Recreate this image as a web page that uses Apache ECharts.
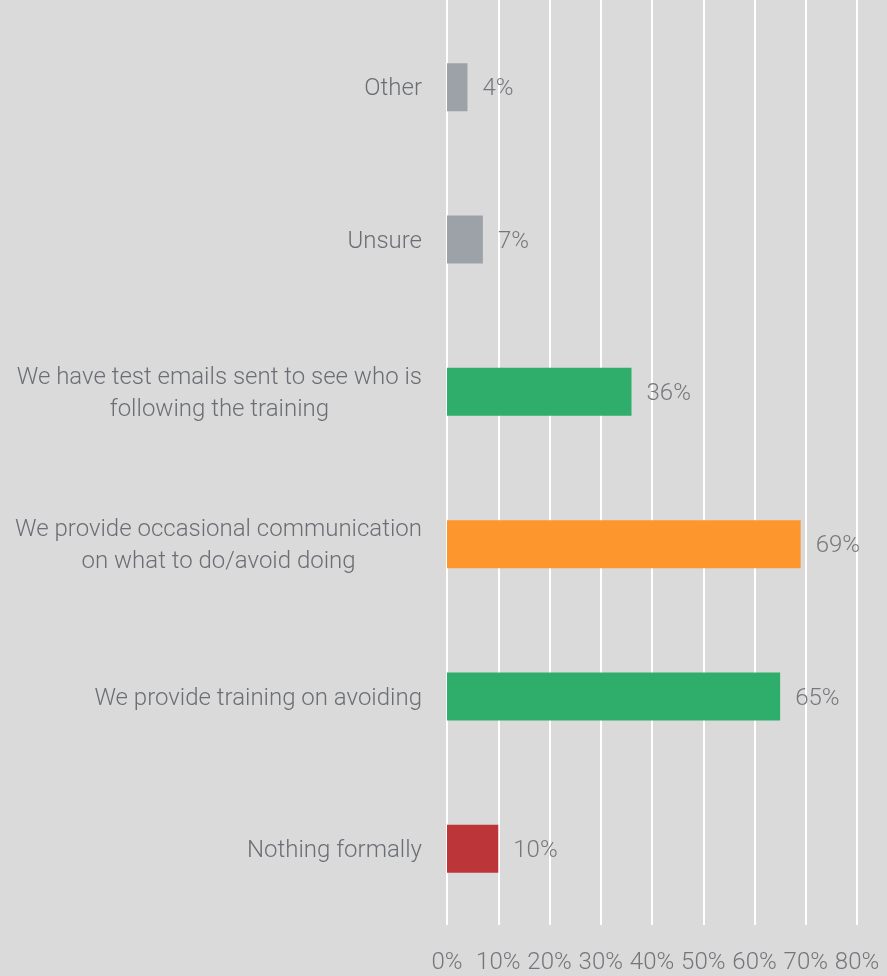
<!DOCTYPE html>
<html>
<head>
<meta charset="utf-8">
<style>
  html, body { margin: 0; padding: 0; background: #dadada; }
  #chart { width: 887px; height: 976px; }
</style>
<script src="https://cdn.jsdelivr.net/npm/echarts@6/dist/echarts.min.js"></script>
</head>
<body>
<div id="chart"></div>
<script>
// Survey answers, listed bottom to top as the category axis draws them
const categories = [
  'Nothing formally',
  'We provide training on avoiding',
  'We provide occasional communication\non what to do/avoid doing',
  'We have test emails sent to see who is\nfollowing the training',
  'Unsure',
  'Other'
];
const values = [10, 65, 69, 36, 7, 4];
const barColors = ['#bc3538', '#2eae6a', '#fd962d', '#2eae6a', '#9da1a8', '#9da1a8'];
const axisMax = 80;
const axisStep = 10;

const chart = echarts.init(document.getElementById('chart'));
const font = 'Roboto, "Noto Sans", sans-serif';

// Each label line is wrapped in a centred rich segment so wrapped lines centre under each other
function centredLabel(text) {
  return text.split('\n').map(line => '{c|' + line + '}').join('\n');
}

chart.setOption({
  backgroundColor: '#dadada',
  animation: false,
  grid: [
    { left: 447, right: 30, top: 11, bottom: 51, containLabel: false },
    { left: 447, right: 30, top: 0, bottom: 51, containLabel: false }
  ],
  xAxis: [
    {
      type: 'value', gridIndex: 0, min: 0, max: axisMax, interval: axisStep,
      axisLine: { show: false }, axisTick: { show: false },
      splitLine: { show: false },
      axisLabel: {
        formatter: '{value}%', color: '#73767b', fontFamily: font,
        fontWeight: 300, fontSize: 24, margin: 26
      }
    },
    {
      type: 'value', gridIndex: 1, min: 0, max: axisMax, interval: axisStep,
      axisLine: { show: false }, axisTick: { show: false },
      axisLabel: { show: false },
      splitLine: { show: true, lineStyle: { color: '#ffffff', width: 2 } }
    }
  ],
  yAxis: [
    {
      type: 'category', gridIndex: 0, data: categories,
      axisLine: { show: false }, axisTick: { show: false },
      axisLabel: {
        margin: 25, color: '#6b6e74', fontFamily: font, fontWeight: 300,
        fontSize: 24, lineHeight: 32, padding: [4, 0, 0, 0],
        formatter: centredLabel,
        rich: {
          c: { align: 'center', color: '#6b6e74', fontFamily: font, fontWeight: 300, fontSize: 24, lineHeight: 32 }
        }
      }
    },
    { type: 'category', gridIndex: 1, show: false, data: categories }
  ],
  series: [
    {
      type: 'bar', xAxisIndex: 0, yAxisIndex: 0, barWidth: 48,
      data: values.map((v, i) => ({ value: v, itemStyle: { color: barColors[i] } })),
      label: {
        show: true, position: 'right', distance: 15, formatter: '{c}%', offset: [0, 2],
        color: '#76787c', fontFamily: font, fontWeight: 300, fontSize: 24
      }
    }
  ]
});
</script>
</body>
</html>
